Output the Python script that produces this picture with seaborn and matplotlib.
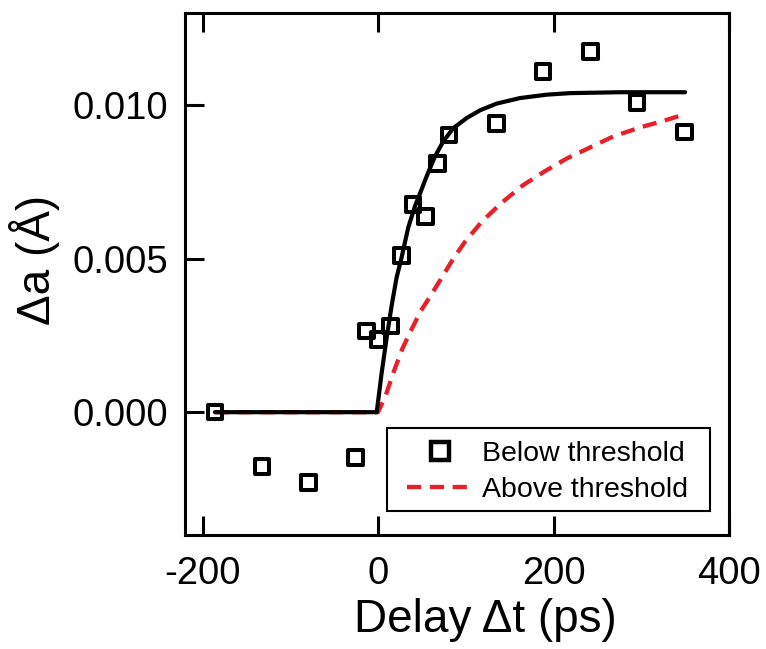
import numpy as np
import pandas as pd
import matplotlib
matplotlib.use("Agg")
import matplotlib.pyplot as plt
import seaborn as sns
from matplotlib.lines import Line2D
from matplotlib.patches import Rectangle

# ---- data ----
below_delay = [-186, -132, -79, -26, -13, 0, 14, 27, 40, 54, 68, 81, 135, 188, 242, 295, 349]
below_da = [0.0, -0.00177, -0.00229, -0.00147, 0.00265, 0.00237, 0.00280, 0.00511,
            0.00676, 0.00638, 0.00810, 0.00903, 0.00940, 0.01110, 0.01175, 0.01009, 0.00912]

fit_delay = [-186, -1.5, 4.0, 9.7, 15.4, 21.1, 26.8, 34.4, 42.0, 47.8, 55.5, 64.9, 74.4,
             85.8, 101.1, 116.2, 135.2, 161.8, 192.2, 218.8, 275.8, 350]
fit_da = [0.0, 0.0, 0.00125, 0.00240, 0.00345, 0.00438, 0.00503, 0.00601, 0.00670,
          0.00712, 0.00769, 0.00833, 0.00882, 0.00925, 0.00958, 0.00983, 0.01005,
          0.01023, 0.01034, 0.01039, 0.01042, 0.01042]

above_delay = [-186, 0, 8.8, 18.3, 27.9, 39.3, 48.8, 59.2, 72.6, 85.8, 99.1, 118.1,
               140.9, 165.6, 190.3, 215.0, 241.6, 268.1, 300.5, 323.3, 346.1]
above_da = [0.0, 0.0, 0.00055, 0.00135, 0.00208, 0.00276, 0.00330, 0.00376, 0.00438,
            0.00500, 0.00555, 0.00620, 0.00682, 0.00740, 0.00785, 0.00826, 0.00862,
            0.00898, 0.00929, 0.00947, 0.00967]

xticks = [-200, 0, 200, 400]
yticks = [0.000, 0.005, 0.010]
ytick_labels = ["0.000", "0.005", "0.010"]

RED = "#e8202a"

sns.set_style("ticks")
plt.rcParams["font.family"] = ["Liberation Sans", "DejaVu Sans"]
plt.rcParams["mathtext.default"] = "regular"
for k in ["text.color", "axes.labelcolor", "xtick.color", "ytick.color", "axes.edgecolor"]:
    plt.rcParams[k] = "black"

fig = plt.figure(figsize=(7.66, 6.49), dpi=100)
ax = fig.add_axes([185 / 766, 1 - 535 / 649, 544 / 766, 522 / 649])

sns.lineplot(x=above_delay, y=above_da, ax=ax, color=RED, lw=3.1,
             estimator=None, sort=False, legend=False, zorder=2)
ax.lines[-1].set_dashes((3.3, 2.0))
sns.lineplot(x=fit_delay, y=fit_da, ax=ax, color="black", lw=3.0,
             estimator=None, sort=False, legend=False, zorder=3)
sns.scatterplot(x=below_delay, y=below_da, ax=ax, marker="s", s=110,
                facecolor="none", edgecolor="black", linewidth=2.9,
                legend=False, zorder=4)

ax.set_xlim(-220, 400)
ax.set_ylim(-0.004, 0.013)
ax.set_xticks(xticks)
ax.set_xticklabels([str(t) for t in xticks])
ax.set_yticks(yticks)
ax.set_yticklabels(ytick_labels)

for sp in ax.spines.values():
    sp.set_linewidth(2.2)
    sp.set_color("black")
    sp.set_visible(True)

ax.tick_params(axis="both", which="major", direction="in", length=14, width=2.2,
               labelsize=27.5, colors="black")
ax.tick_params(axis="x", top=True, labeltop=False, pad=15)
ax.tick_params(axis="y", right=False, pad=12)
ax.minorticks_off()

ax.set_xlabel("Delay Δt (ps)", fontsize=33)
ax.set_ylabel("Δa (Å)", fontsize=33)
ax.xaxis.set_label_coords(0.5524, -0.121)
ax.yaxis.set_label_coords(-0.2298, 0.527)

# legend frame (wider horizontal padding than vertical, as in the reference)
ax.add_patch(Rectangle((0.3713, 0.046), 0.9651 - 0.3713, 0.205 - 0.046,
                       transform=ax.transAxes, facecolor="white", edgecolor="black",
                       linewidth=1.5, zorder=5))

handles = [
    Line2D([], [], marker="s", ls="none", markersize=13, markerfacecolor="none",
           markeredgecolor="black", markeredgewidth=3.2),
    Line2D([], [], color=RED, lw=3.1, dashes=(3.3, 2.0)),
]
leg = ax.legend(handles, ["Below threshold", "Above threshold"], loc="lower left",
                bbox_to_anchor=(0.408, 0.062), fontsize=20.5, frameon=False,
                handlelength=2.3, handletextpad=0.35, borderpad=0.0,
                labelspacing=0.33, borderaxespad=0, numpoints=1)
leg.set_zorder(6)
for t in leg.get_texts():
    t.set_color("black")

fig.savefig("out.png", dpi=100)
